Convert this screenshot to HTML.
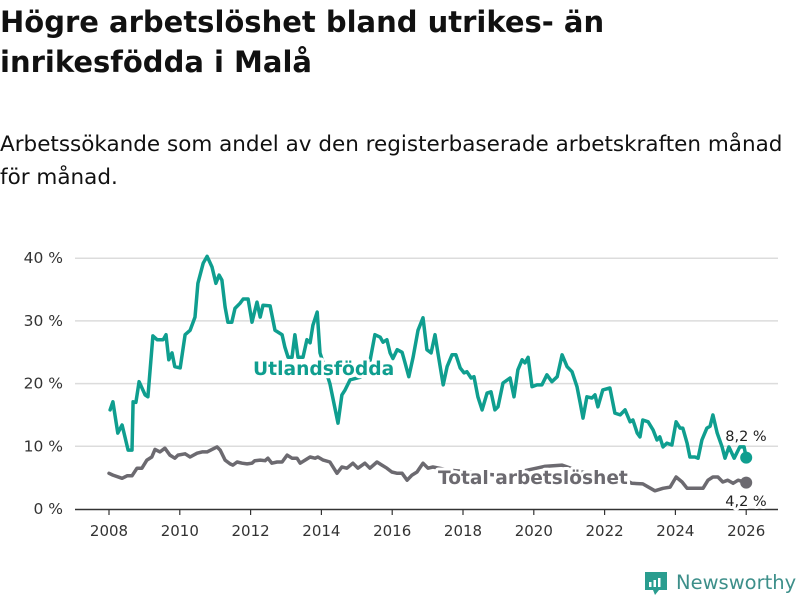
<!DOCTYPE html>
<html><head><meta charset="utf-8">
<style>
body{margin:0;width:800px;height:600px;background:#fff;overflow:hidden;font-family:"DejaVu Sans",sans-serif;color:#111}
h1{position:absolute;left:0;top:2px;margin:0;font-size:29px;line-height:40px;font-weight:bold;width:760px}
p{position:absolute;left:0;top:128px;margin:0;font-size:21.5px;line-height:33px;width:795px}
svg{position:absolute;left:0;top:0}
</style></head><body>
<h1>Högre arbetslöshet bland utrikes- än inrikesfödda i Malå</h1>
<p>Arbetssökande som andel av den registerbaserade arbetskraften månad för månad.</p>
<svg id="chart" width="800" height="600"></svg>
<script>
const yTicks=[0,10,20,30,40];
const xTicks=[2008,2010,2012,2014,2016,2018,2020,2022,2024,2026];
const utlDates=[2008.03,2008.11,2008.25,2008.37,2008.54,2008.65,2008.68,2008.76,2008.85,2009.02,2009.10,2009.24,2009.36,2009.53,2009.61,2009.69,2009.78,2009.86,2010.01,2010.15,2010.29,2010.43,2010.51,2010.66,2010.77,2010.91,2011.02,2011.11,2011.19,2011.28,2011.36,2011.47,2011.56,2011.70,2011.79,2011.93,2012.04,2012.18,2012.27,2012.35,2012.55,2012.69,2012.89,2012.97,2013.06,2013.17,2013.25,2013.34,2013.48,2013.59,2013.68,2013.76,2013.88,2013.96,2014.24,2014.47,2014.58,2014.67,2014.81,2015.09,2015.32,2015.51,2015.66,2015.74,2015.85,2015.94,2016.02,2016.14,2016.28,2016.36,2016.47,2016.59,2016.73,2016.87,2016.98,2017.10,2017.21,2017.29,2017.44,2017.55,2017.69,2017.80,2017.92,2018.03,2018.11,2018.23,2018.31,2018.42,2018.54,2018.68,2018.79,2018.90,2018.99,2019.13,2019.33,2019.44,2019.55,2019.67,2019.75,2019.84,2019.95,2020.09,2020.23,2020.37,2020.51,2020.66,2020.80,2020.94,2021.08,2021.22,2021.31,2021.39,2021.50,2021.64,2021.73,2021.81,2021.95,2022.15,2022.29,2022.44,2022.58,2022.72,2022.80,2022.92,2023.00,2023.08,2023.23,2023.37,2023.48,2023.56,2023.65,2023.76,2023.90,2024.02,2024.13,2024.21,2024.33,2024.41,2024.55,2024.64,2024.75,2024.89,2024.98,2025.06,2025.18,2025.32,2025.40,2025.51,2025.66,2025.82,2025.94,2026.0];
const utlValues=[15.8,17.1,12.1,13.4,9.4,9.4,17.1,17.0,20.3,18.2,17.9,27.6,27.0,27.0,27.8,23.8,24.9,22.7,22.5,27.8,28.5,30.6,36.0,39.2,40.3,38.6,36.0,37.3,36.5,32.2,29.8,29.8,32.0,32.8,33.5,33.5,29.8,33.0,30.6,32.5,32.4,28.5,27.8,25.8,24.2,24.2,27.8,24.2,24.2,27.0,26.5,29.3,31.4,24.9,20.0,13.7,18.2,19.0,20.6,21.0,22.0,27.8,27.4,26.6,27.0,24.9,24.0,25.4,25.0,23.4,21.1,24.2,28.5,30.5,25.4,24.9,27.8,24.9,19.8,22.7,24.6,24.6,22.5,21.7,21.9,20.9,21.1,17.9,15.8,18.5,18.7,15.8,16.3,20.1,20.9,17.9,22.2,23.8,23.3,24.2,19.5,19.8,19.8,21.4,20.3,21.1,24.6,22.7,21.9,19.5,16.9,14.5,17.9,17.7,18.2,16.3,19.0,19.3,15.3,15.0,15.8,13.9,14.2,12.1,11.5,14.2,13.9,12.6,11.0,11.5,9.9,10.5,10.2,13.9,12.9,12.9,10.5,8.3,8.3,8.1,11.0,12.9,13.2,15.0,12.1,9.9,8.1,9.9,8.1,9.9,9.9,8.2];
const totDates=[2008.0,2008.11,2008.37,2008.51,2008.65,2008.79,2008.93,2009.07,2009.21,2009.30,2009.44,2009.58,2009.72,2009.86,2009.95,2010.15,2010.29,2010.49,2010.63,2010.77,2010.91,2011.05,2011.14,2011.28,2011.42,2011.50,2011.62,2011.76,2011.90,2012.04,2012.12,2012.27,2012.41,2012.49,2012.60,2012.75,2012.89,2013.03,2013.17,2013.31,2013.40,2013.54,2013.68,2013.82,2013.90,2014.05,2014.24,2014.44,2014.58,2014.72,2014.89,2015.03,2015.23,2015.37,2015.57,2015.71,2015.85,2015.99,2016.14,2016.28,2016.42,2016.56,2016.70,2016.87,2017.01,2017.15,2017.6,2018.0,2018.5,2019.0,2019.5,2020.3,2020.8,2021.3,2021.8,2022.3,2022.7,2022.77,2023.08,2023.42,2023.65,2023.85,2024.02,2024.19,2024.33,2024.78,2024.92,2025.06,2025.20,2025.34,2025.48,2025.63,2025.77,2026.0];
const totValues=[5.7,5.4,4.9,5.3,5.3,6.5,6.5,7.8,8.3,9.5,9.1,9.7,8.6,8.1,8.6,8.8,8.3,8.9,9.1,9.1,9.5,9.9,9.4,7.8,7.2,7.0,7.5,7.3,7.2,7.3,7.7,7.8,7.7,8.1,7.3,7.5,7.5,8.6,8.1,8.1,7.3,7.8,8.3,8.1,8.3,7.8,7.5,5.7,6.7,6.5,7.3,6.5,7.3,6.5,7.5,7.0,6.5,5.9,5.7,5.7,4.6,5.4,5.9,7.3,6.5,6.7,6.2,6.0,5.6,5.4,5.8,6.8,7.0,6.0,5.3,4.9,4.3,4.1,4.0,2.9,3.3,3.5,5.1,4.3,3.3,3.3,4.6,5.1,5.1,4.3,4.6,4.1,4.6,4.2];

const NS='http://www.w3.org/2000/svg';
const FF='DejaVu Sans, sans-serif';
const svg=document.getElementById('chart');
const X=v=>109+(v-2008)*35.4;
const Y=v=>509-v*6.27;
function mk(tag,attrs,parent){const e=document.createElementNS(NS,tag);for(const k in attrs)e.setAttribute(k,attrs[k]);(parent||svg).appendChild(e);return e;}
yTicks.forEach(t=>{
  if(t>0){const g=mk('line',{x1:75,x2:778,y1:Y(t),y2:Y(t),stroke:'#dcdcdc','stroke-width':1.5});
  
  }
  const l=mk('text',{x:63,y:Y(t)+5,'text-anchor':'end','font-size':15.5,fill:'#333','font-family':FF});
  l.textContent=t+' %';
  
  
});
const ax=mk('line',{x1:75,x2:778,y1:509.5,y2:509.5,stroke:'#333','stroke-width':1.5});


xTicks.forEach(t=>{
  const tk=mk('line',{x1:X(t),x2:X(t),y1:509,y2:515,stroke:'#333','stroke-width':1.2});
  
  
  const l=mk('text',{x:X(t),y:536,'text-anchor':'middle','font-size':15,fill:'#333','font-family':FF});
  l.textContent=t;
  
  
});
function line(d,v,color,name){
  const p=mk('path',{d:d.map((x,i)=>(i?'L':'M')+X(x).toFixed(1)+','+Y(v[i]).toFixed(1)).join(''),fill:'none',stroke:color,'stroke-width':3.5,'stroke-linejoin':'round','stroke-linecap':'round'});
  
  
  const n=d.length-1;
  const c=mk('circle',{cx:X(d[n]),cy:Y(v[n]),r:6,fill:color});
  
  
}
const teal='#0f9e8f',gray='#6c6a70';
line(totDates,totValues,gray,'total-line');
line(utlDates,utlValues,teal,'utlandsfodda-line');
function lab(x,y,txt,color,size,bold,name,anchor){
  const t=mk('text',{x:x,y:y,fill:color,'font-size':size,'font-weight':bold?'bold':'normal','font-family':FF,stroke:'#fff','stroke-width':6,'paint-order':'stroke','stroke-linejoin':'round','text-anchor':anchor||'start'});
  t.textContent=txt;
  
  
}
lab(253,375,'Utlandsfödda',teal,18.7,true,'utlandsfodda-label');
lab(438,484,'Total arbetslöshet',gray,18.6,true,'total-label');
lab(746,441,'8,2 %','#222',14.5,false,'utlandsfodda-end-value','middle');
lab(746,506,'4,2 %','#222',14.5,false,'total-end-value','middle');
const lg=mk('g',{});


mk('path',{d:'M645 572 h22 v18 h-8 l-4 5 l-2 -5 h-8 z',fill:'#2a9d8f'},lg);
mk('rect',{x:649,y:582,width:2.5,height:5,fill:'#fff'},lg);
mk('rect',{x:653.5,y:580,width:2.5,height:7,fill:'#fff'},lg);
mk('rect',{x:658,y:578,width:2.5,height:9,fill:'#fff'},lg);
const lt=mk('text',{x:676,y:589,fill:'#3d8f8a','font-size':19.5,'font-family':FF},lg);
lt.textContent='Newsworthy';
</script>
</body></html>
